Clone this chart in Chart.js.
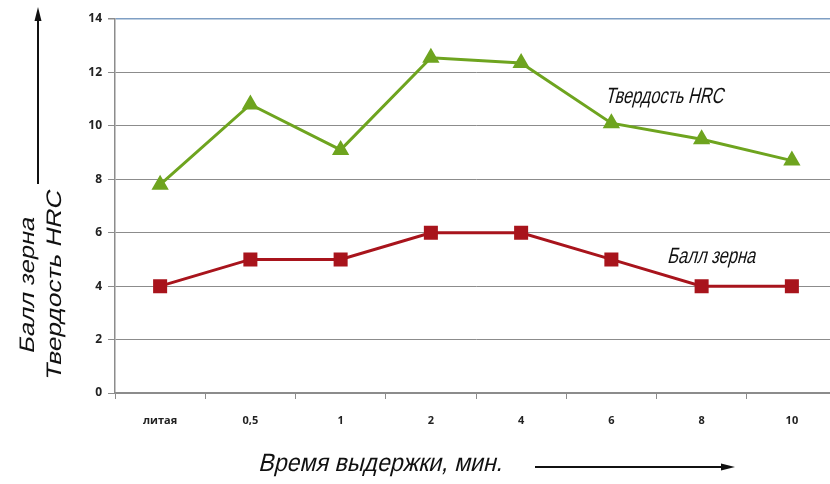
<!DOCTYPE html>
<html>
<head>
<meta charset="utf-8">
<script src="https://cdn.jsdelivr.net/npm/chart.js@4/dist/chart.umd.min.js"></script>
<style>
  html, body { margin: 0; padding: 0; background: #fff; overflow: hidden; }
  #wrap { position: relative; width: 850px; height: 484px; }
  #c { display: block; width: 850px; height: 484px; }
</style>
</head>
<body>
<div id="wrap"><canvas id="c" width="850" height="484"></canvas></div>
<script>
// Holding time categories
const categories = ['литая', '0,5', '1', '2', '4', '6', '8', '10'];
// Hardness, HRC
const hardness = [7.8, 10.8, 9.1, 12.55, 12.35, 10.1, 9.5, 8.7];
// Grain size number
const grain = [4, 5, 5, 6, 6, 5, 4, 4];
// Value axis ticks
const yTicks = [0, 2, 4, 6, 8, 10, 12, 14];

const GREEN = '#6ea41f';
const RED = '#a8141c';
const GRID = '#8c8c8c';
const GRID_TOP = '#7f9fc4';
const TITLE_FONT = '"Liberation Sans", "DejaVu Sans", sans-serif';
const SLANT = Math.tan(14 * Math.PI / 180);

// Draws slanted, condensed lettering squeezed to a given width
function narrowText(ctx, text, x, y, size, width, align) {
  ctx.save();
  ctx.font = size + 'px ' + TITLE_FONT;
  const w = ctx.measureText(text).width;
  const sx = width / w;
  ctx.translate(x, y);
  ctx.transform(sx, 0, -SLANT, 1, 0, 0);
  ctx.textAlign = align || 'left';
  ctx.textBaseline = 'alphabetic';
  ctx.fillStyle = '#111';
  ctx.fillText(text, 0, 0);
  ctx.restore();
}

function arrow(ctx, x1, y1, x2, y2) {
  ctx.save();
  ctx.strokeStyle = '#111';
  ctx.fillStyle = '#111';
  ctx.lineWidth = 2;
  const ang = Math.atan2(y2 - y1, x2 - x1);
  const hl = 14, hw = 3.5;
  const bx = x2 - Math.cos(ang) * hl, by = y2 - Math.sin(ang) * hl;
  ctx.beginPath();
  ctx.moveTo(x1, y1);
  ctx.lineTo(bx, by);
  ctx.stroke();
  ctx.beginPath();
  ctx.moveTo(x2, y2);
  ctx.lineTo(bx - Math.sin(ang) * hw, by + Math.cos(ang) * hw);
  ctx.lineTo(bx + Math.sin(ang) * hw, by - Math.cos(ang) * hw);
  ctx.closePath();
  ctx.fill();
  ctx.restore();
}

const titles = {
  id: 'titles',
  afterDraw(chart) {
    const ctx = chart.ctx;
    // horizontal axis title with arrow
    narrowText(ctx, 'Время выдержки, мин.', 258, 471, 25, 244, 'left');
    arrow(ctx, 535, 467, 735, 467);

    // vertical axis title (two lines, centred) with arrow
    ctx.save();
    ctx.translate(34, 286);
    ctx.rotate(-Math.PI / 2);
    narrowText(ctx, 'Балл зерна', 0, 0, 21, 136, 'center');
    ctx.restore();
    ctx.save();
    ctx.translate(61, 286);
    ctx.rotate(-Math.PI / 2);
    narrowText(ctx, 'Твердость HRC', 0, 0, 21, 190, 'center');
    ctx.restore();
    arrow(ctx, 38, 184, 38, 7);

    // series captions
    narrowText(ctx, 'Твердость HRC', 605, 103, 22, 118, 'left');
    narrowText(ctx, 'Балл зерна', 667, 263, 22, 88, 'left');
  }
};

new Chart(document.getElementById('c'), {
  type: 'line',
  data: {
    labels: categories,
    datasets: [
      {
        label: 'Твердость HRC',
        data: hardness,
        borderColor: GREEN,
        backgroundColor: GREEN,
        borderWidth: 3,
        pointStyle: 'triangle',
        pointRadius: 7,
        pointHoverRadius: 7,
        tension: 0
      },
      {
        label: 'Балл зерна',
        data: grain,
        borderColor: RED,
        backgroundColor: RED,
        borderWidth: 3,
        pointStyle: 'rect',
        pointRadius: 7.8,
        pointHoverRadius: 7.8,
        tension: 0
      }
    ]
  },
  options: {
    responsive: false,
    animation: false,
    layout: { padding: { top: 19, right: 13, bottom: 0, left: 0 } },
    plugins: {
      legend: { display: false },
      tooltip: { enabled: false }
    },
    scales: {
      x: {
        offset: true,
        afterFit(s) { s.height = 91; },
        grid: {
          offset: true,
          drawOnChartArea: false,
          drawTicks: true,
          tickLength: 6,
          color: GRID
        },
        border: { color: GRID, width: 1.5 },
        ticks: {
          color: '#222',
          padding: 15,
          font: { family: '"Open Sans", "Liberation Sans", sans-serif', size: 11, weight: 'bold' }
        }
      },
      y: {
        min: 0,
        max: 14,
        afterFit(s) { s.width = 115; },
        afterBuildTicks(s) { s.ticks = yTicks.map(v => ({ value: v })); },
        grid: {
          color: ctx => (ctx.tick && ctx.tick.value === 14 ? GRID_TOP : GRID),
          lineWidth: ctx => (ctx.tick && ctx.tick.value === 14 ? 1.5 : 1),
          tickLength: 7,
          tickColor: GRID
        },
        border: { color: GRID, width: 1.5 },
        ticks: {
          color: '#222',
          padding: 6,
          font: { family: '"Open Sans", "Liberation Sans", sans-serif', size: 12, weight: 'bold' }
        }
      }
    }
  },
  plugins: [titles]
});
</script>
</body>
</html>
